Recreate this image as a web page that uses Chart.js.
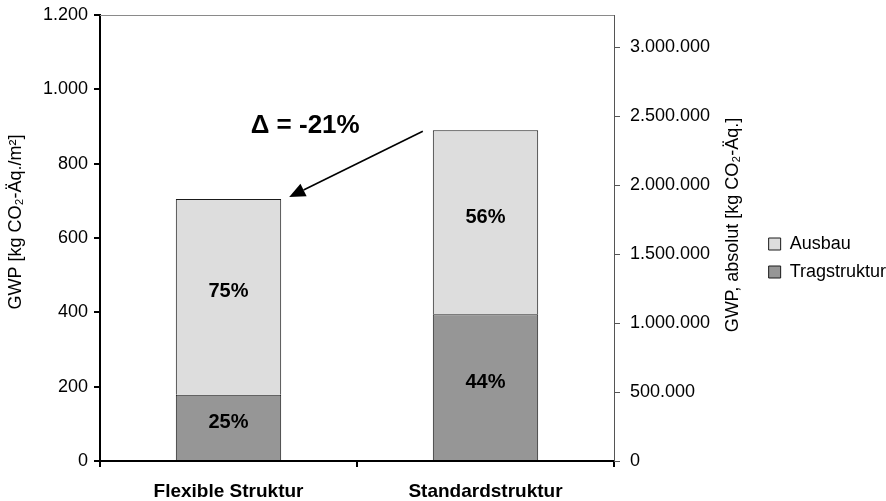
<!DOCTYPE html>
<html>
<head>
<meta charset="utf-8">
<script src="https://cdn.jsdelivr.net/npm/chart.js@4.4.1/dist/chart.umd.min.js"></script>
<style>
  html, body { margin: 0; padding: 0; background: #fff; }
  canvas { display: block; }
</style>
</head>
<body>
<canvas id="gwp" width="886" height="501"></canvas>
<script>
// =========================
// DATA
// =========================

const categories = ["Flexible Struktur", "Standardstruktur"];
const tragstruktur = [178, 395];   // kg CO2-Äq./m²
const ausbau = [527, 495];         // kg CO2-Äq./m²

const leftMax = 1200;
const leftStep = 200;
const rightTicks = [0, 500000, 1000000, 1500000, 2000000, 2500000, 3000000];
const floorArea = 2695;            // m², converts per-m² values to absolute

const FONT = "'Liberation Sans', Arial, sans-serif";


// =========================
// HELPERS
// =========================

function fmtDE(v) {
  return String(Math.round(v)).replace(/\B(?=(\d{3})+(?!\d))/g, ".");
}

function totals() {
  return categories.map((c, i) => tragstruktur[i] + ausbau[i]);
}


// =========================
// PLUGINS
// =========================

// percentage shares inside each stacked segment
const segmentLabels = {
  id: "segmentLabels",
  afterDatasetsDraw(chart) {
    const ctx = chart.ctx;
    const sums = totals();
    ctx.save();
    ctx.font = "bold 20px " + FONT;
    ctx.fillStyle = "#000";
    ctx.textAlign = "center";
    ctx.textBaseline = "middle";
    chart.data.datasets.forEach((ds, di) => {
      chart.getDatasetMeta(di).data.forEach((bar, i) => {
        const pct = Math.round(ds.data[i] / sums[i] * 100);
        ctx.fillText(pct + "%", bar.x, (bar.y + bar.base) / 2 - 5);
      });
    });
    ctx.restore();
  }
};

// delta arrow between the two totals, top frame line and axis titles
const extras = {
  id: "extras",
  afterDraw(chart) {
    const ctx = chart.ctx;
    const area = chart.chartArea;
    const top = chart.getDatasetMeta(1).data;
    const flex = top[0];
    const std = top[1];
    const sums = totals();
    const delta = Math.round((sums[0] / sums[1] - 1) * 100);

    ctx.save();

    // top frame line
    ctx.strokeStyle = "#8a8a8a";
    ctx.lineWidth = 1;
    ctx.beginPath();
    ctx.moveTo(area.left, area.top + 0.5);
    ctx.lineTo(area.right, area.top + 0.5);
    ctx.stroke();

    // arrow from standard total to flexible total
    const x1 = std.x - std.width / 2 - 10, y1 = std.y + 1;
    const x2 = flex.x + flex.width / 2 + 8, y2 = flex.y - 2;
    const ang = Math.atan2(y2 - y1, x2 - x1);
    const headLen = 16, headW = 7;
    ctx.strokeStyle = "#000";
    ctx.lineWidth = 1.6;
    ctx.beginPath();
    ctx.moveTo(x1, y1);
    ctx.lineTo(x2 - Math.cos(ang) * headLen, y2 - Math.sin(ang) * headLen);
    ctx.stroke();
    ctx.fillStyle = "#000";
    ctx.beginPath();
    ctx.moveTo(x2, y2);
    ctx.lineTo(x2 - Math.cos(ang) * headLen - Math.sin(ang) * headW,
               y2 - Math.sin(ang) * headLen + Math.cos(ang) * headW);
    ctx.lineTo(x2 - Math.cos(ang) * headLen + Math.sin(ang) * headW,
               y2 - Math.sin(ang) * headLen - Math.cos(ang) * headW);
    ctx.closePath();
    ctx.fill();

    // delta text
    ctx.font = "bold 26px " + FONT;
    ctx.textAlign = "center";
    ctx.textBaseline = "middle";
    ctx.fillText("\u0394 = " + delta + "%", flex.x + flex.width / 2 + 24, std.y - 4);

    // axis titles, both reading upwards
    ctx.font = "18px " + FONT;
    ctx.save();
    ctx.translate(16, 222);
    ctx.rotate(-Math.PI / 2);
    ctx.fillText("GWP [kg CO\u2082-Äq./m²]", 0, 0);
    ctx.restore();
    ctx.save();
    ctx.translate(733, 225);
    ctx.rotate(-Math.PI / 2);
    ctx.fillText("GWP, absolut [kg CO\u2082-Äq.]", 0, 0);
    ctx.restore();

    ctx.restore();
  }
};


// =========================
// CHART
// =========================

Chart.defaults.font.family = FONT;
Chart.defaults.font.size = 18;
Chart.defaults.color = "#000";

new Chart(document.getElementById("gwp").getContext("2d"), {
  type: "bar",
  data: {
    labels: categories,
    datasets: [
      {
        label: "Tragstruktur",
        data: tragstruktur,
        backgroundColor: "#969696",
        borderColor: "#1a1a1a",
        borderWidth: 1,
        categoryPercentage: 1,
        barPercentage: 0.41
      },
      {
        label: "Ausbau",
        data: ausbau,
        backgroundColor: "#dddddd",
        borderColor: "#1a1a1a",
        borderWidth: 1,
        categoryPercentage: 1,
        barPercentage: 0.41
      }
    ]
  },
  options: {
    responsive: false,
    animation: false,
    layout: { padding: { top: 15, left: 0, right: -10, bottom: 0 } },
    plugins: {
      legend: {
        position: "right",
        reverse: true,
        labels: {
          boxWidth: 12,
          boxHeight: 12,
          padding: 10,
          color: "#000",
          font: { size: 18 }
        }
      },
      tooltip: { enabled: false }
    },
    scales: {
      x: {
        stacked: true,
        border: { color: "#000", width: 2 },
        grid: {
          offset: true,
          drawOnChartArea: false,
          tickLength: 6,
          color: "#000",
          lineWidth: 2
        },
        ticks: { padding: 13, font: { size: 19, weight: "bold" }, maxRotation: 0 },
        afterFit(scale) { scale.height = 40; }
      },
      y: {
        stacked: true,
        position: "left",
        min: 0,
        max: leftMax,
        border: { color: "#000", width: 2 },
        grid: {
          drawOnChartArea: false,
          tickLength: 6,
          color: "#000",
          lineWidth: 2
        },
        ticks: { stepSize: leftStep, padding: 6, callback: v => fmtDE(v) },
        afterFit(scale) {
          scale.width = 100;
          scale.paddingTop = 0;
          scale.paddingBottom = 0;
        }
      },
      yAbs: {
        type: "linear",
        position: "right",
        min: 0,
        max: leftMax * floorArea,
        border: { color: "#555", width: 1 },
        grid: {
          drawOnChartArea: false,
          tickLength: 6,
          color: "#555",
          lineWidth: 1
        },
        ticks: { padding: 10, autoSkip: false, callback: v => fmtDE(v) },
        afterBuildTicks(scale) {
          scale.ticks = rightTicks.map(v => ({ value: v }));
        },
        afterFit(scale) {
          const lw = scale.chart.legend ? scale.chart.legend.width : 138;
          scale.width = scale.chart.width + 10 - lw - 614;
          scale.paddingTop = 0;
          scale.paddingBottom = 0;
        }
      }
    }
  },
  plugins: [segmentLabels, extras]
});
</script>
</body>
</html>
